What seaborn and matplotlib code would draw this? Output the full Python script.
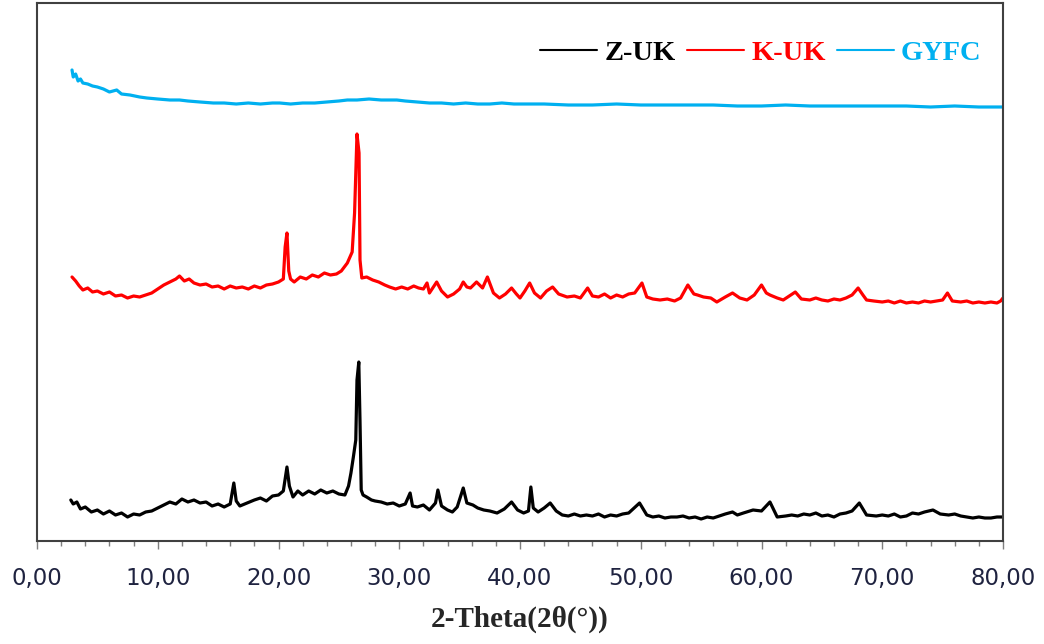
import pandas as pd
import seaborn as sns
import matplotlib.pyplot as plt
from matplotlib.lines import Line2D
from matplotlib.ticker import MultipleLocator, FuncFormatter

# 2-theta positions and intensities (arbitrary units)
zuk_x = [2.8, 3.0, 3.3, 3.6, 4.0, 4.5, 5.0, 5.5, 6.0, 6.5, 7.0, 7.5, 8.0, 8.5, 9.0, 9.5,
         10.0, 10.5, 11.0, 11.5, 12.0, 12.5, 13.0, 13.5, 14.0, 14.5, 15.0, 15.5, 16.0, 16.3,
         16.5, 16.8, 17.2, 17.6, 18.0, 18.5, 19.0, 19.5, 20.0, 20.4, 20.7, 20.9, 21.2, 21.6,
         22.0, 22.5, 23.0, 23.5, 24.0, 24.5, 25.0, 25.5, 25.8, 26.0, 26.2, 26.4, 26.5, 26.65,
         26.75, 26.85, 27.0, 27.3, 27.7, 28.0, 28.5, 29.0, 29.5, 30.0, 30.5, 30.9, 31.1, 31.5,
         32.0, 32.5, 33.0, 33.2, 33.5, 34.0, 34.4, 34.8, 35.3, 35.6, 36.1, 36.5, 37.0, 37.5,
         38.1, 38.7, 39.3, 39.8, 40.3, 40.7, 40.9, 41.1, 41.5, 42.0, 42.5, 43.0, 43.5, 44.0,
         44.5, 45.0, 45.5, 46.0, 46.5, 47.0, 47.5, 48.0, 48.5, 49.0, 49.9, 50.5, 51.0, 51.5,
         52.0, 52.5, 53.0, 53.5, 54.0, 54.5, 55.0, 55.5, 56.0, 56.5, 57.0, 57.6, 58.0, 58.5,
         59.3, 60.0, 60.7, 61.3, 62.0, 62.5, 63.0, 63.5, 64.0, 64.5, 65.0, 65.5, 66.0, 66.5,
         67.0, 67.5, 68.1, 68.7, 69.5, 70.0, 70.5, 71.0, 71.5, 72.0, 72.5, 73.0, 73.5, 74.2,
         74.8, 75.5, 76.0, 76.5, 77.0, 77.5, 78.0, 78.5, 79.0, 79.5, 80.0]
zuk_y = [41, 37, 39, 32, 34, 29, 31, 27, 30, 26, 28, 24, 27, 26, 29, 30,
         33, 36, 39, 37, 42, 39, 41, 38, 39, 35, 37, 34, 37, 58,
         40, 35, 37, 39, 41, 43, 40, 45, 46, 50, 74, 55, 44, 50,
         46, 50, 47, 51, 48, 50, 47, 46, 55, 68, 84, 101, 161, 179,
         120, 51, 46, 44, 41, 40, 39, 37, 38, 35, 37, 48, 35, 34,
         36, 31, 38, 51, 35, 31, 29, 34, 53, 38, 36, 33, 31, 30,
         28, 32, 39, 31, 28, 30, 54, 33, 29, 33, 38, 30, 26, 25,
         27, 25, 26, 25, 27, 24, 26, 25, 27, 28, 38, 26, 24, 25,
         23, 24, 24, 25, 23, 24, 22, 24, 23, 25, 27, 29, 26, 28,
         31, 30, 39, 24, 25, 26, 25, 27, 26, 28, 25, 26, 24, 27,
         28, 30, 38, 26, 25, 26, 25, 27, 24, 25, 28, 27, 29, 31,
         27, 26, 27, 25, 24, 23, 24, 23, 23, 24, 24]

kuk_x = [2.9, 3.2, 3.5, 3.8, 4.2, 4.6, 5.0, 5.5, 6.0, 6.5, 7.0, 7.5, 8.0, 8.5, 9.0, 9.5,
         10.0, 10.5, 11.0, 11.5, 11.8, 12.2, 12.6, 13.0, 13.5, 14.0, 14.5, 15.0, 15.5, 16.0,
         16.5, 17.0, 17.5, 18.0, 18.5, 19.0, 19.5, 20.0, 20.4, 20.55, 20.7, 20.85, 21.0, 21.3,
         21.8, 22.3, 22.8, 23.3, 23.8, 24.3, 24.8, 25.2, 25.7, 26.1, 26.3, 26.5, 26.67, 26.75,
         26.9, 27.3, 27.8, 28.3, 28.8, 29.2, 29.7, 30.2, 30.7, 31.2, 31.6, 32.0, 32.3, 32.5,
         33.1, 33.5, 34.0, 34.5, 35.0, 35.3, 35.6, 35.9, 36.4, 36.9, 37.3, 37.8, 38.3, 38.8,
         39.3, 39.7, 40.0, 40.4, 40.8, 41.2, 41.7, 42.2, 42.7, 43.2, 43.9, 44.5, 45.0, 45.6,
         46.0, 46.5, 47.0, 47.5, 48.0, 48.5, 49.0, 49.5, 50.1, 50.5, 51.0, 51.6, 52.2, 52.8,
         53.3, 53.9, 54.4, 54.7, 55.2, 55.8, 56.3, 57.0, 57.6, 58.2, 58.8, 59.4, 60.0, 60.4,
         60.7, 61.3, 61.8, 62.3, 62.8, 63.3, 64.0, 64.5, 65.0, 65.5, 66.0, 66.5, 67.0, 67.5,
         68.0, 68.4, 68.7, 69.3, 70.0, 70.5, 71.0, 71.5, 72.0, 72.5, 73.0, 73.5, 74.0, 74.5,
         75.0, 75.4, 75.8, 76.5, 77.0, 77.5, 78.0, 78.5, 79.0, 79.5, 79.8, 80.0]
kuk_y = [264, 260, 255, 251, 253, 249, 250, 247, 249, 245, 246, 243, 245, 244, 246, 248,
         252, 256, 259, 262, 265, 260, 262, 258, 256, 257, 254, 255, 252, 255,
         253, 254, 252, 255, 253, 256, 257, 259, 262, 294, 308, 270, 262, 259,
         264, 262, 266, 264, 268, 266, 267, 270, 278, 289, 328, 407, 388, 281,
         263, 264, 261, 259, 256, 254, 252, 254, 252, 255, 253, 252, 258, 248,
         259, 250, 244, 247, 252, 259, 254, 253, 259, 253, 264, 248, 243, 247,
         253, 247, 243, 250, 258, 248, 243, 250, 254, 247, 244, 245, 243, 253,
         245, 244, 247, 243, 246, 244, 247, 248, 258, 244, 242, 241, 242, 240,
         243, 256, 247, 246, 244, 243, 239, 244, 248, 243, 241, 246, 256, 248,
         246, 243, 241, 245, 249, 242, 241, 243, 241, 240, 242, 241, 243, 246,
         253, 246, 241, 240, 239, 240, 238, 240, 238, 239, 238, 240, 239, 240,
         241, 248, 240, 239, 240, 238, 239, 238, 239, 238, 240, 243]

gyfc_x = [2.9, 3.0, 3.2, 3.4, 3.6, 3.8, 4.2, 4.6, 5.0, 5.5, 6.0, 6.6, 7.0, 7.7, 8.5, 9.1,
          10.0, 11.0, 11.8, 12.5, 13.5, 14.6, 15.5, 16.5, 17.5, 18.5, 19.5, 20.1, 21.0, 22.0,
          23.0, 24.0, 25.0, 25.7, 26.5, 27.5, 28.5, 29.8, 30.5, 31.5, 32.5, 33.5, 34.5, 35.5,
          36.5, 37.5, 38.5, 39.5, 40.8, 42.0, 44.0, 46.0, 48.0, 50.0, 52.0, 54.0, 56.0, 58.0,
          60.0, 62.0, 64.0, 66.0, 68.0, 70.0, 72.0, 74.0, 76.0, 78.0, 80.0]
gyfc_y = [471, 464, 467, 460, 462, 458, 457, 455, 454, 452, 449, 451, 447, 446, 444, 443,
          442, 441, 441, 440, 439, 438, 438, 437, 438, 437, 438, 438, 437, 438,
          438, 439, 440, 441, 441, 442, 441, 441, 440, 439, 438, 438, 437, 438,
          437, 437, 438, 437, 437, 437, 436, 436, 437, 436, 436, 436, 436, 435,
          435, 436, 435, 435, 435, 435, 435, 434, 435, 434, 434]

samples = ["Z-UK", "K-UK", "GYFC"]
colors = ["#000000", "#FF0000", "#00B0F0"]

df = pd.concat([
    pd.DataFrame({"two_theta": zuk_x, "intensity": zuk_y, "sample": "Z-UK"}),
    pd.DataFrame({"two_theta": kuk_x, "intensity": kuk_y, "sample": "K-UK"}),
    pd.DataFrame({"two_theta": gyfc_x, "intensity": gyfc_y, "sample": "GYFC"}),
])

sns.set_style("white")

fig = plt.figure(figsize=(10.44, 6.44), dpi=100)
ax = fig.add_axes([37 / 1044, 1 - 541 / 644, 966 / 1044, 538 / 644])

sns.lineplot(data=df, x="two_theta", y="intensity", hue="sample", hue_order=samples,
             palette=colors, sort=False, estimator=None, linewidth=2.3, legend=False, ax=ax)

ax.set_xlim(0, 80)
ax.set_ylim(0, 538)
ax.set_yticks([])
ax.xaxis.set_major_locator(MultipleLocator(10))
ax.xaxis.set_minor_locator(MultipleLocator(2))
ax.xaxis.set_major_formatter(FuncFormatter(lambda v, p: f"{v:.2f}".replace(".", ",")))
ax.tick_params(axis="x", which="major", direction="out", length=6, width=1,
               color="#7f7f7f", labelsize=16.5, labelcolor="#1f2340", pad=13, bottom=True)
ax.tick_params(axis="x", which="minor", direction="out", length=3.5, width=1,
               color="#7f7f7f", bottom=True)
for s in ax.spines.values():
    s.set_color("#404040")
    s.set_linewidth(1.5)

ax.set_xlabel("2-Theta(2θ(°))", family="Liberation Serif", weight="bold", fontsize=21,
              labelpad=11)
ax.set_ylabel("")

handles = [Line2D([], [], color=c, linewidth=1.5) for c in colors]
leg = ax.legend(handles, samples, loc="center right", bbox_to_anchor=(0.978, 0.907),
                ncol=3, frameon=False, borderpad=0, borderaxespad=0,
                handlelength=2.0, handletextpad=0.25, columnspacing=0.4,
                prop={"family": "Liberation Serif", "weight": "bold", "size": 20.5})
for txt, c in zip(leg.get_texts(), colors):
    txt.set_color(c)

fig.savefig("out.png", dpi=100)
